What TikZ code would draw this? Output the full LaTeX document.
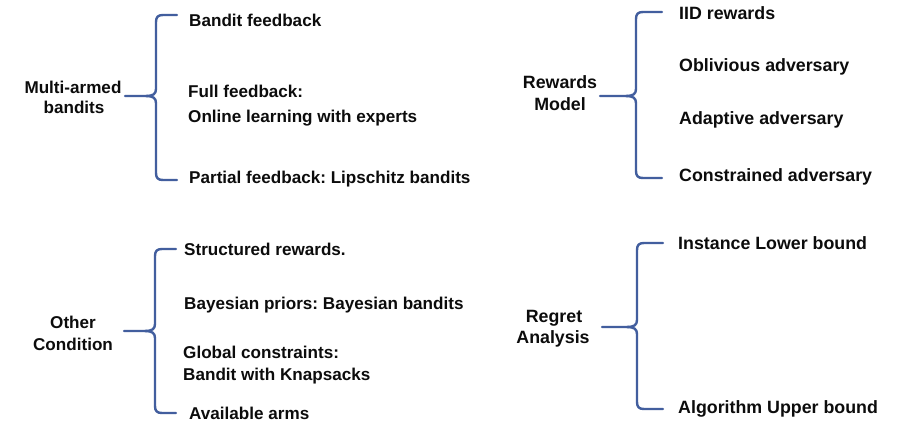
\documentclass[tikz,border=0pt]{standalone}
\usepackage{fontspec}
\setmainfont{Liberation Sans}
\frenchspacing
\definecolor{bracecol}{RGB}{66,94,158}
\definecolor{txtcol}{RGB}{12,12,12}
\newcommand\mybrace[6]{% #1 x of vertical, #2 top y, #3 mid y, #4 bottom y, #5 arm end x, #6 stem start x
  \draw[bracestyle] (#5,#2) -- ({#1+7},#2) .. controls ({#1+2},#2) and (#1,{#2+2}) .. (#1,{#2+7})
     -- (#1,{#3-7}) .. controls (#1,{#3-2}) and ({#1-3},#3) .. ({#1-10},#3) -- (#6,#3);
  \draw[bracestyle] (#5,#4) -- ({#1+7},#4) .. controls ({#1+2},#4) and (#1,{#4-2}) .. (#1,{#4-7})
     -- (#1,{#3+7}) .. controls (#1,{#3+2}) and ({#1-3},#3) .. ({#1-10},#3);
}
\begin{document}
\begin{tikzpicture}[x=1pt,y=-1pt,
  bracestyle/.style={draw=bracecol,line width=2.4pt,line cap=round,line join=round},
  item/.style={anchor=base west,inner sep=0pt,text=txtcol,font=\fontsize{17.1}{22}\selectfont\bfseries},
  head/.style={anchor=base,inner sep=0pt,text=txtcol,font=\fontsize{17.1}{22}\selectfont\bfseries},
  big/.style={font=\fontsize{17.8}{22}\selectfont\bfseries}]
\useasboundingbox[fill=white] (0,0) rectangle (920,437);

% ---------- Multi-armed bandits ----------
\node[head] (mab1) at (73,93) {Multi-armed};
\node[head] (mab2) at (74,113) {bandits};
\mybrace{156}{15}{96}{180}{177}{125}
\node[item] (mabA) at (189,26) {Bandit feedback};
\node[item] (mabB) at (188,97) {Full feedback:};
\node[item] (mabC) at (188,122) {Online learning with experts};
\node[item] (mabD) at (189,183) {Partial feedback: Lipschitz bandits};

% ---------- Other Condition ----------
\node[head] (oc1) at (73,328) {Other};
\node[head] (oc2) at (73,350) {Condition};
\mybrace{155}{249}{331}{413}{176}{124}
\node[item] (ocA) at (184,255) {Structured rewards.};
\node[item] (ocB) at (184,309) {Bayesian priors: Bayesian bandits};
\node[item] (ocC) at (183,358) {Global constraints:};
\node[item] (ocD) at (183,380) {Bandit with Knapsacks};
\node[item] (ocE) at (189,419) {Available arms};

% ---------- Rewards Model ----------
\node[head,big] (rm1) at (560,88) {Rewards};
\node[head,big] (rm2) at (560,110) {Model};
\mybrace{636}{12}{96}{178}{662}{600}
\node[item,big] (rmA) at (679,19) {IID rewards};
\node[item,big] (rmB) at (679,71) {Oblivious adversary};
\node[item,big] (rmC) at (679,124) {Adaptive adversary};
\node[item,big] (rmD) at (679,181) {Constrained adversary};

% ---------- Regret Analysis ----------
\node[head,big] (ra1) at (554,322) {Regret};
\node[head,big] (ra2) at (553,343) {Analysis};
\mybrace{637}{243}{327}{409}{663}{602}
\node[item,big] (raA) at (678,249) {Instance Lower bound};
\node[item,big] (raB) at (678,413) {Algorithm Upper bound};
\end{tikzpicture}
\end{document}
